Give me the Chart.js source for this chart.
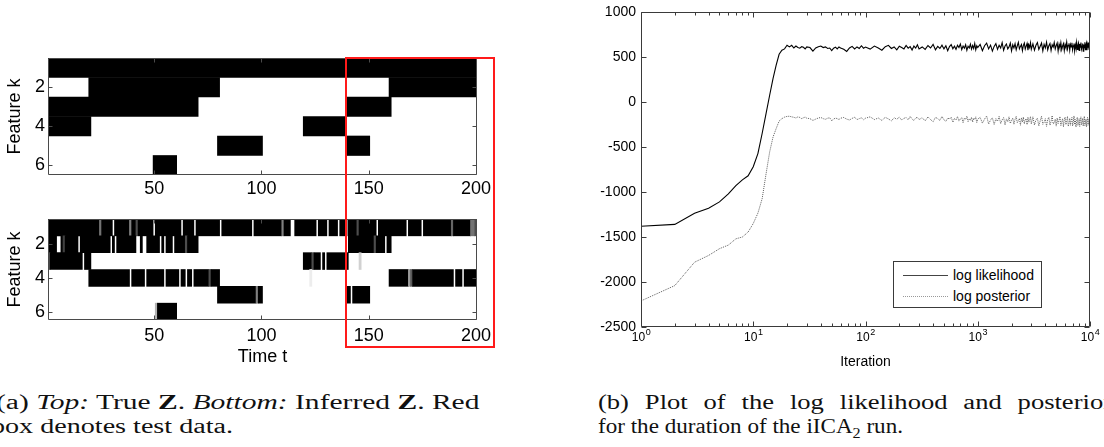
<!DOCTYPE html>
<html>
<head>
<meta charset="utf-8">
<script src="https://cdn.jsdelivr.net/npm/chart.js@4.4.0/dist/chart.umd.min.js"></script>
<style>
  html, body { margin: 0; padding: 0; background: #fff; }
  body { position: relative; width: 1104px; height: 447px; overflow: hidden; }
  canvas { position: absolute; }
  .cap { position: absolute; font-family: 'Liberation Serif', serif; font-size: 20px; line-height: 24px;
         color: #111; white-space: nowrap; transform-origin: 0 0; }
  #testBox { position: absolute; border: 2px solid #ff1a1a; box-sizing: border-box; }
  #legendBox { position: absolute; left: 893px; top: 261px; width: 149px; height: 47px; box-sizing: border-box;
               border: 1px solid #3a3a3a; background: #fff; font: 14px 'Liberation Sans', Arial, sans-serif; color: #000; }
  #legendBox div { position: absolute; }
</style>
</head>
<body>
<canvas id="zTrue" width="500" height="150" style="left:0;top:50px"></canvas>
<canvas id="zInf" width="500" height="160" style="left:0;top:210px"></canvas>
<canvas id="llChart" width="544" height="380" style="left:560px;top:0"></canvas>
<div id="testBox"></div>
<div id="legendBox">
  <div style="left:9px;top:13px;width:45px;border-top:1px solid #444"></div>
  <div style="left:59px;top:5px">log likelihood</div>
  <div style="left:9px;top:34px;width:45px;border-top:1px dotted #999"></div>
  <div style="left:59px;top:26px">log posterior</div>
</div>
<div class="cap" id="capA1" style="left:-4px;top:390px">(a) <i>Top:</i> True <b>Z</b>. <i>Bottom:</i> Inferred <b>Z</b>. Red</div>
<div class="cap" id="capA2" style="left:-9px;top:414px">box denotes test data.</div>
<div class="cap" id="capB1" style="left:598px;top:390px">(b) Plot of the log likelihood and posterior</div>
<div class="cap" id="capB2" style="left:598px;top:414px">for the duration of the iICA<sub style="font-size:14px;line-height:0">2</sub> run.</div>

<script>
// ---- panel (a): feature matrices ----
const rowLabels = ['1', '2', '3', '4', '5', '6'];
const featureTicks = ['2', '4', '6'];
const timeTicks = [50, 100, 150, 200];
const testStart = 140;

// true Z, one list per feature: [first t, last t]
const trueZ1 = [[1, 200]];
const trueZ2 = [[20, 80], [160, 200]];
const trueZ3 = [[1, 70], [140, 160]];
const trueZ4 = [[1, 20], [120, 139]];
const trueZ5 = [[80, 100], [140, 150]];
const trueZ6 = [[50, 60]];

// inferred Z: [first t, last t, grey level (0 = black, 1 = white)]
const infZ1 = [[1, 24], [25, 25, 0.45], [26, 30], [32, 38], [39, 39, 0.5], [40, 41], [42, 42, 0.3], [43, 49],
  [51, 62], [64, 68], [70, 80], [82, 95], [97, 109], [110, 110, 0.5], [111, 113], [116, 125], [127, 130],
  [132, 135], [137, 139], [140, 140, 0.55], [141, 144], [145, 145, 0.3], [146, 153], [155, 167], [169, 174],
  [176, 188], [189, 189, 0.4], [190, 197], [198, 199, 0.45], [200, 200, 0.3]];
const infZ2 = [[1, 4], [7, 7], [8, 8, 0.25], [9, 14], [16, 29], [31, 31], [33, 41], [44, 44], [47, 52], [54, 54],
  [56, 58], [60, 64], [65, 65, 0.3], [66, 70], [141, 152], [153, 153, 0.3], [154, 157], [159, 160]];
const infZ3 = [[1, 1, 0.35], [2, 16], [18, 20], [120, 123], [124, 124, 0.3], [125, 127], [129, 129], [131, 140],
  [146, 146, 0.82]];
const infZ4 = [[20, 38], [40, 45], [47, 54], [56, 61], [63, 64], [66, 67], [69, 75], [76, 76, 0.3], [77, 80],
  [123, 123, 0.93], [160, 168], [169, 169, 0.6], [170, 170, 0.35], [171, 189], [191, 193], [195, 200]];
const infZ5 = [[80, 97], [98, 98, 0.5], [99, 100], [140, 141], [143, 150]];
const infZ6 = [[51, 51, 0.7], [52, 60]];

// ---- panel (b): log likelihood / posterior ----
const llTicks = [-2500, -2000, -1500, -1000, -500, 0, 500, 1000];
const decades = [1, 10, 100, 1000, 10000];

const iterations = [
  1, 2, 3, 4, 5, 6, 7, 8, 9, 10, 11, 12, 13, 14, 15, 16, 17, 18, 19, 20, 21, 22, 23, 24, 25, 26, 27, 28, 29, 30,
  32, 34, 36, 38, 40, 42, 44, 46, 48, 50, 52, 54, 56, 58, 60,
  64, 68, 72, 76, 80, 84, 88, 92, 96, 100,
  110, 120, 130, 140, 150, 160, 170, 180, 190, 200, 210, 220, 230, 240, 250, 260, 270, 280, 290, 300,
  320, 340, 360, 380, 400, 420, 440, 460, 480, 500, 520, 540, 560, 580, 600, 620, 640, 660, 680, 700,
  720, 740, 760, 780, 800, 820, 840, 860, 880, 900, 920, 940, 960, 980, 1000,
  1050, 1100, 1150, 1200, 1250, 1300, 1350, 1400, 1450, 1500, 1550, 1600, 1650, 1700, 1750, 1800, 1850, 1900,
  1950, 2000, 2050, 2100, 2150, 2200, 2250, 2300, 2350, 2400, 2450, 2500, 2550, 2600, 2650, 2700, 2750, 2800,
  2850, 2900, 2950, 3000,
  3100, 3200, 3300, 3400, 3500, 3600, 3700, 3800, 3900, 4000, 4100, 4200, 4300, 4400, 4500, 4600, 4700, 4800,
  4900, 5000, 5100, 5200, 5300, 5400, 5500, 5600, 5700, 5800, 5900, 6000, 6100, 6200, 6300, 6400, 6500, 6600,
  6700, 6800, 6900, 7000, 7100, 7200, 7300, 7400, 7500, 7600, 7700, 7800, 7900, 8000, 8100, 8200, 8300, 8400,
  8500, 8600, 8700, 8800, 8900, 9000, 9100, 9200, 9300, 9400, 9500, 9600, 9700, 9800, 9900, 10000
];

const logLikelihood = [
  -1380, -1360, -1235, -1180, -1110, -1020, -930, -865, -820, -720,
  -573, -350, -130, 75, 260, 410, 530, 575, 590, 630,
  612, 630, 600, 622, 605, 598, 615, 608, 590, 612,
  605, 565, 600, 615, 622, 605, 612, 595, 600, 570, 598, 610, 590, 612, 600,
  585, 562, 600, 618, 590, 612, 595, 625, 598, 610,
  588, 622, 600, 575, 615, 630, 595, 612, 580, 620, 605, 590, 628, 598, 615, 578, 622, 600, 635, 590,
  612, 585, 628, 600, 640, 580, 618, 595, 632, 590, 625, 570, 615, 638, 592, 620, 585, 630, 605, 645,
  582, 622, 598, 636, 575, 620, 600, 642, 588, 628, 595, 650, 580, 625, 605,
  640, 570, 625, 655, 590, 632, 565, 618, 648, 585, 630, 600, 660, 575, 622, 645, 590, 612, 655, 568,
  635, 600, 648, 580, 625, 662, 592, 618, 640, 570, 630, 655, 588, 620, 650, 575, 635, 605, 658, 585,
  645, 575, 630, 660, 585, 620, 655, 568, 640, 600, 665, 580, 625, 650, 572, 635, 610, 662, 590, 628,
  655, 565, 642, 598, 660, 582, 622, 648, 570, 638, 605, 665, 588, 630, 652, 575, 640, 612, 658, 580,
  625, 650, 568, 635, 600, 662, 585, 628, 655, 572, 645, 608, 660, 590, 622, 650, 565, 638, 602, 664,
  582, 630, 655, 575, 640, 610, 660, 588, 625, 645
];

const logPosterior = [
  -2210, -2040, -1780, -1705, -1630, -1590, -1520, -1500, -1445, -1350,
  -1235, -1075, -800, -555, -390, -295, -212, -185, -168, -160,
  -158, -165, -170, -178, -165, -172, -185, -175, -168, -180,
  -185, -205, -190, -178, -172, -185, -192, -180, -175, -208, -190, -178, -185, -195, -180,
  -172, -190, -200, -182, -170, -195, -185, -175, -198, -180,
  -165, -195, -178, -205, -170, -188, -210, -175, -192, -168, -200, -182, -172, -198, -160, -190, -205, -178, -170, -195,
  -175, -210, -165, -195, -220, -170, -185, -205, -160, -198, -215, -178, -190, -168, -225, -182, -200, -162, -212, -188,
  -172, -230, -178, -195, -158, -218, -185, -205, -170, -222, -180, -195, -165, -228, -190,
  -170, -235, -190, -155, -245, -200, -175, -250, -185, -215, -160, -240, -198, -172, -255, -188, -220, -165, -238, -205,
  -178, -248, -192, -160, -230, -210, -182, -258, -175, -222, -168, -242, -198, -185, -252, -170, -225, -200, -162, -245,
  -165, -255, -200, -180, -265, -210, -158, -248, -225, -185, -270, -195, -170, -258, -215, -152, -245, -230, -190, -268,
  -178, -240, -205, -162, -262, -220, -185, -275, -198, -168, -252, -212, -160, -270, -235, -182, -258, -205, -172, -265,
  -225, -155, -250, -195, -278, -215, -170, -260, -238, -185, -272, -200, -165, -255, -228, -180, -268, -210, -158, -262,
  -235, -190, -275, -218, -170, -258, -240, -185, -270, -225
];

Chart.defaults.font.family = "'Liberation Sans', Arial, sans-serif";
Chart.defaults.color = '#000';

// box round the axes plus MATLAB style inward tick marks
const framePlugin = {
  id: 'frame',
  afterDatasetsDraw(chart, args, opts) {
    const {ctx, chartArea: a} = chart;
    const xs = chart.scales.x, ys = chart.scales.y;
    const L = Math.round(a.left) + 0.5, R = Math.round(a.right) - 0.5;
    const T = Math.round(a.top) + 0.5, B = Math.round(a.bottom) - 0.5;
    ctx.save();
    ctx.strokeStyle = opts.color || '#4a4a4a';
    ctx.lineWidth = 1;
    ctx.beginPath();
    ctx.rect(L, T, R - L, B - T);
    (opts.xTicks || []).forEach(t => {
      const p = Math.round(xs.getPixelForValue(t.value)) + 0.5;
      ctx.moveTo(p, B); ctx.lineTo(p, B - t.len);
      ctx.moveTo(p, T); ctx.lineTo(p, T + t.len);
    });
    (opts.yTicks || []).forEach(t => {
      const p = Math.round(ys.getPixelForValue(t.value)) + 0.5;
      ctx.moveTo(L, p); ctx.lineTo(L + t.len, p);
      ctx.moveTo(R, p); ctx.lineTo(R - t.len, p);
    });
    ctx.stroke();
    ctx.restore();
  }
};

// 10^k labels under the log axis
const powerLabels = {
  id: 'powerLabels',
  afterDraw(chart) {
    const {ctx} = chart;
    const xs = chart.scales.x;
    const base = chart.chartArea.bottom;
    ctx.save();
    ctx.fillStyle = '#000';
    ctx.textBaseline = 'alphabetic';
    decades.forEach(v => {
      const exp = String(Math.round(Math.log10(v)));
      ctx.font = "12px 'Liberation Sans', Arial, sans-serif";
      const w1 = ctx.measureText('10').width;
      ctx.font = "9px 'Liberation Sans', Arial, sans-serif";
      const w2 = ctx.measureText(exp).width;
      const x0 = xs.getPixelForValue(v) - (w1 + w2) / 2;
      ctx.font = "12px 'Liberation Sans', Arial, sans-serif";
      ctx.fillText('10', x0, base + 14);
      ctx.font = "9px 'Liberation Sans', Arial, sans-serif";
      ctx.fillText(exp, x0 + w1 + 0.5, base + 8);
    });
    ctx.restore();
  }
};

function toBars(rows) {
  const bars = [];
  rows.forEach((runs, r) => runs.forEach(run => {
    bars.push({x: [run[0] - 0.5, run[1] + 0.5], y: rowLabels[r], g: run[2] || 0});
  }));
  return bars;
}

function shade(ctx) {
  const g = ctx.raw && ctx.raw.g ? ctx.raw.g : 0;
  const c = Math.round(g * 255);
  return `rgb(${c},${c},${c})`;
}

function makeMatrix(id, rows, lay) {
  return new Chart(document.getElementById(id), {
    type: 'bar',
    data: {
      labels: rowLabels,
      datasets: [{
        data: toBars(rows),
        backgroundColor: shade,
        borderWidth: 0,
        barPercentage: 1,
        categoryPercentage: 1
      }]
    },
    options: {
      indexAxis: 'y',
      responsive: false,
      animation: false,
      events: [],
      layout: { padding: { top: lay.top, right: 23, left: 0, bottom: 0 } },
      plugins: {
        legend: { display: false },
        tooltip: { enabled: false },
        frame: {
          xTicks: timeTicks.map(v => ({ value: v, len: 4 })),
          yTicks: featureTicks.map(l => ({ value: rowLabels.indexOf(l), len: 4 }))
        }
      },
      scales: {
        x: {
          type: 'linear',
          min: 0.5,
          max: 200.5,
          afterBuildTicks: s => { s.ticks = timeTicks.map(v => ({ value: v })); },
          afterFit: s => { s.height = lay.xHeight; s.paddingLeft = 0; s.paddingRight = 0; },
          grid: { display: false, drawTicks: false },
          border: { display: false },
          ticks: { autoSkip: false, maxRotation: 0, padding: lay.xPad, font: { size: 18 }, callback: v => String(v) },
          title: { display: !!lay.xTitle, text: lay.xTitle || '', font: { size: 18 }, padding: { top: 0, bottom: 2 } }
        },
        y: {
          type: 'category',
          afterFit: s => { s.width = 48; s.paddingTop = 0; s.paddingBottom = 0; },
          grid: { display: false, drawTicks: false },
          border: { display: false },
          ticks: {
            autoSkip: false,
            padding: 3,
            font: { size: 18 },
            callback(v) { const l = this.getLabelForValue(v); return featureTicks.includes(l) ? l : ''; }
          },
          title: { display: true, text: 'Feature k', font: { size: 18 }, padding: { top: 4, bottom: 0 } }
        }
      }
    },
    plugins: [framePlugin]
  });
}

const zTrue = makeMatrix('zTrue', [trueZ1, trueZ2, trueZ3, trueZ4, trueZ5, trueZ6], { top: 8, xHeight: 25, xPad: 3 });
const zInf = makeMatrix('zInf', [infZ1, infZ2, infZ3, infZ4, infZ5, infZ6], { top: 9, xHeight: 50, xPad: 5, xTitle: 'Time t' });

// red box marking the test columns
const zx = zTrue.scales.x;
const box = document.getElementById('testBox');
const boxLeft = Math.round(zx.getPixelForValue(testStart - 0.5)) - 1;
const boxTop = 50 + Math.round(zTrue.chartArea.top) - 1;
box.style.left = boxLeft + 'px';
box.style.top = boxTop + 'px';
box.style.width = (495 - boxLeft) + 'px';
box.style.height = (348 - boxTop) + 'px';

const minorTicks = [];
decades.slice(0, -1).forEach(d => { for (let m = 2; m <= 9; m++) minorTicks.push({ value: m * d, len: 3 }); });

new Chart(document.getElementById('llChart'), {
  type: 'line',
  data: {
    datasets: [
      {
        label: 'log likelihood',
        data: iterations.map((it, i) => ({ x: it, y: logLikelihood[i] })),
        borderColor: '#000',
        borderWidth: 1.1,
        pointRadius: 0,
        tension: 0
      },
      {
        label: 'log posterior',
        data: iterations.map((it, i) => ({ x: it, y: logPosterior[i] })),
        borderColor: '#5e5e5e',
        borderWidth: 1,
        borderDash: [1, 1],
        pointRadius: 0,
        tension: 0
      }
    ]
  },
  options: {
    responsive: false,
    animation: false,
    events: [],
    layout: { padding: { top: 12, right: 14, left: 0, bottom: 0 } },
    plugins: {
      legend: { display: false },
      tooltip: { enabled: false },
      frame: {
        color: '#3a3a3a',
        xTicks: decades.map(v => ({ value: v, len: 5 })).concat(minorTicks),
        yTicks: llTicks.map(v => ({ value: v, len: 5 }))
      }
    },
    scales: {
      x: {
        type: 'logarithmic',
        min: 1,
        max: 10000,
        afterFit: s => { s.height = 53; s.paddingLeft = 0; s.paddingRight = 0; },
        grid: { display: false, drawTicks: false },
        border: { display: false },
        ticks: { display: false },
        title: { display: true, text: 'Iteration', font: { size: 14 }, padding: { top: 0, bottom: 9 } }
      },
      y: {
        type: 'linear',
        min: -2500,
        max: 1000,
        afterBuildTicks: s => { s.ticks = llTicks.map(v => ({ value: v })); },
        afterFit: s => { s.width = 81; s.paddingTop = 0; s.paddingBottom = 0; },
        grid: { display: false, drawTicks: false },
        border: { display: false },
        ticks: { padding: 5, font: { size: 14 }, callback: v => String(v) }
      }
    }
  },
  plugins: [framePlugin, powerLabels]
});

// captions: glyph width from the last (natural) line, first line a bit wider and justified by word spacing
function natural(id, target) {
  const el = document.getElementById(id);
  const k = target / el.getBoundingClientRect().width;
  el.style.transform = `scaleX(${k})`;
  return k;
}
function justify(id, k, target) {
  const el = document.getElementById(id);
  const w = el.getBoundingClientRect().width;
  const gaps = el.textContent.trim().split(/\s+/).length - 1;
  el.style.wordSpacing = Math.max(0, (target / k - w) / gaps) + 'px';
  el.style.transform = `scaleX(${k})`;
}
const ka = natural('capA2', 242);
justify('capA1', ka * 1.05, 477);
const kb = natural('capB2', 305);
justify('capB1', kb * 1.15, 514);
</script>
</body>
</html>
